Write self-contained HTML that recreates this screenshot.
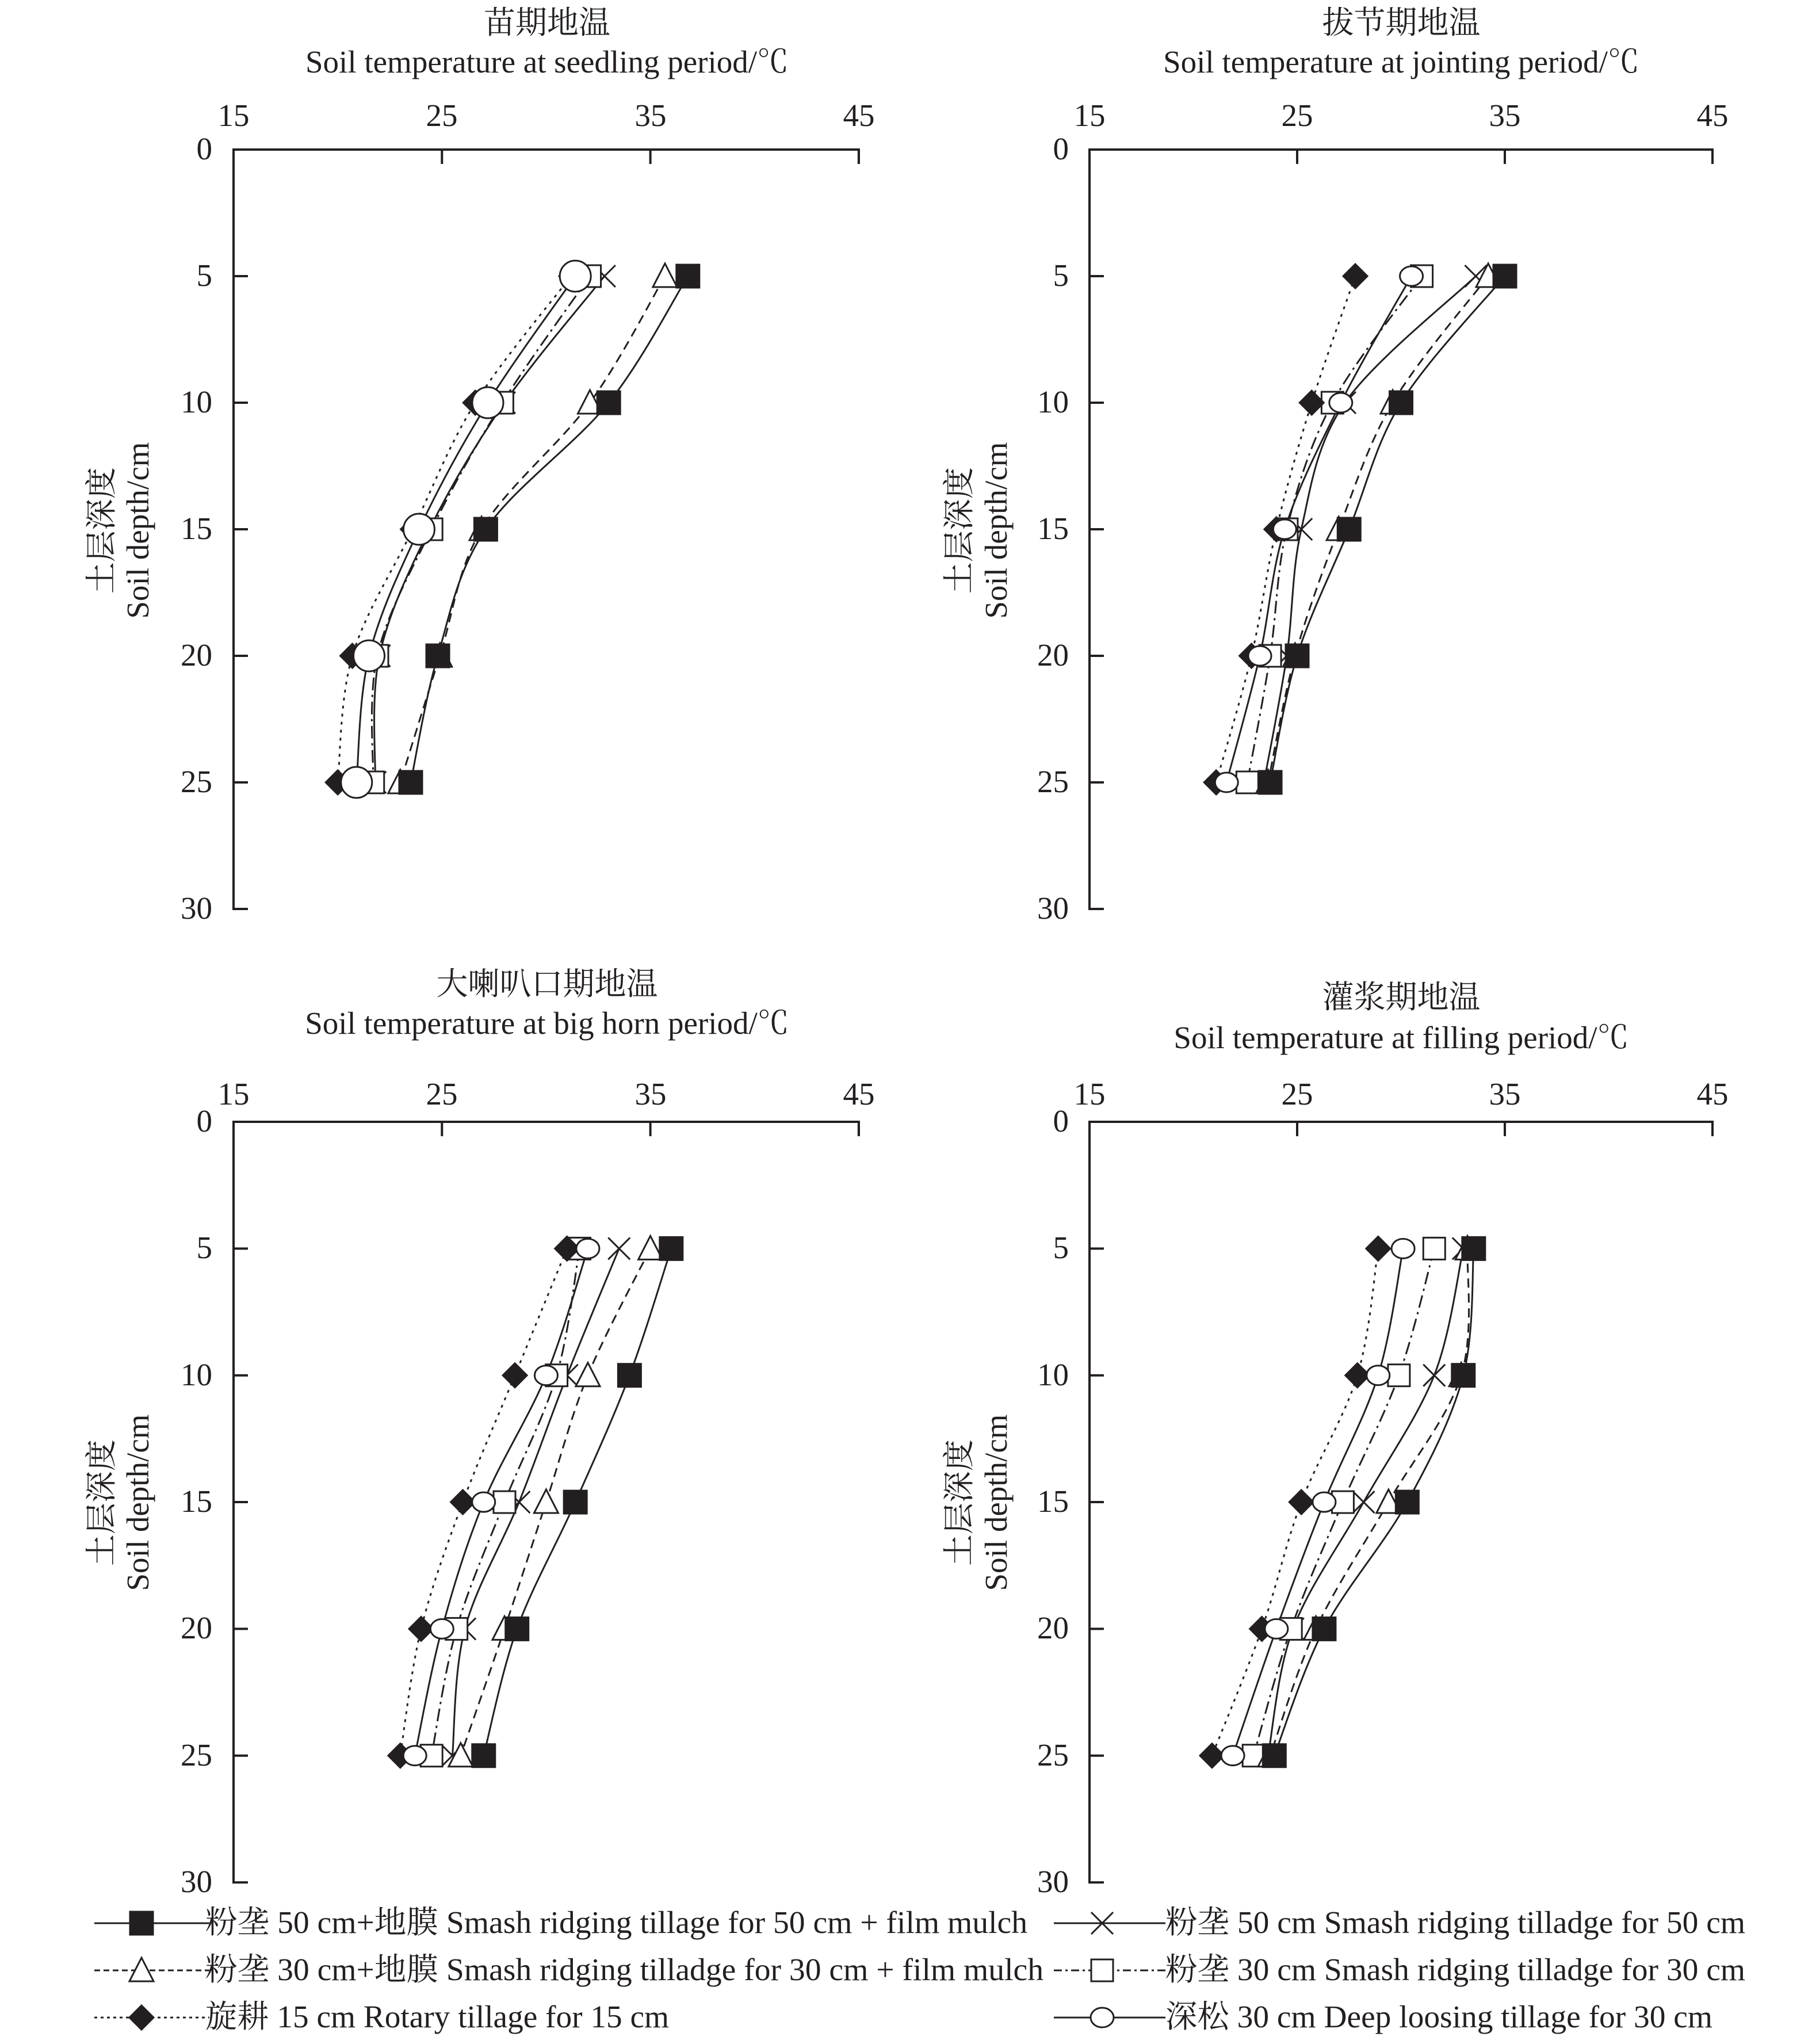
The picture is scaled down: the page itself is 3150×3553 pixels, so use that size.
<!DOCTYPE html>
<html><head><meta charset="utf-8">
<style>
html,body{margin:0;padding:0;background:#fff;}
svg{display:block;}
text{font-family:"Liberation Serif","Noto Serif CJK SC","Noto Sans CJK SC",serif;fill:#231f20;}
</style></head>
<body>
<svg id="s" width="3150" height="3553" viewBox="0 0 3150 3553" xmlns="http://www.w3.org/2000/svg">
<g font-size="55">
<!-- Titles -->
<text x="951" y="58" text-anchor="middle">苗期地温</text>
<text x="951" y="126" text-anchor="middle">Soil temperature at seedling period/℃</text>
<text x="2436" y="58" text-anchor="middle">拔节期地温</text>
<text x="2436" y="126" text-anchor="middle">Soil temperature at jointing period/℃</text>
<text x="951" y="1729" text-anchor="middle">大喇叭口期地温</text>
<text x="951" y="1797" text-anchor="middle">Soil temperature at big horn period/℃</text>
<text x="2436" y="1752" text-anchor="middle">灌浆期地温</text>
<text x="2436" y="1822" text-anchor="middle">Soil temperature at filling period/℃</text>
<!-- Y titles -->
<text transform="translate(195,922) rotate(-90)" text-anchor="middle">土层深度</text>
<text transform="translate(258,922) rotate(-90)" text-anchor="middle">Soil depth/cm</text>
<text transform="translate(1686,922) rotate(-90)" text-anchor="middle">土层深度</text>
<text transform="translate(1750,922) rotate(-90)" text-anchor="middle">Soil depth/cm</text>
<text transform="translate(195,2612) rotate(-90)" text-anchor="middle">土层深度</text>
<text transform="translate(258,2612) rotate(-90)" text-anchor="middle">Soil depth/cm</text>
<text transform="translate(1686,2612) rotate(-90)" text-anchor="middle">土层深度</text>
<text transform="translate(1750,2612) rotate(-90)" text-anchor="middle">Soil depth/cm</text>
<!-- X tick labels top -->
<text x="406" y="219" text-anchor="middle">15</text><text x="768" y="219" text-anchor="middle">25</text><text x="1131" y="219" text-anchor="middle">35</text><text x="1493" y="219" text-anchor="middle">45</text>
<text x="1894" y="219" text-anchor="middle">15</text><text x="2255" y="219" text-anchor="middle">25</text><text x="2616" y="219" text-anchor="middle">35</text><text x="2977" y="219" text-anchor="middle">45</text>
<text x="406" y="1920" text-anchor="middle">15</text><text x="768" y="1920" text-anchor="middle">25</text><text x="1131" y="1920" text-anchor="middle">35</text><text x="1493" y="1920" text-anchor="middle">45</text>
<text x="1894" y="1920" text-anchor="middle">15</text><text x="2255" y="1920" text-anchor="middle">25</text><text x="2616" y="1920" text-anchor="middle">35</text><text x="2977" y="1920" text-anchor="middle">45</text>
<!-- Y tick labels -->
<g text-anchor="end">
<text x="369" y="277">0</text><text x="369" y="497">5</text><text x="369" y="717">10</text><text x="369" y="937">15</text><text x="369" y="1157">20</text><text x="369" y="1377">25</text><text x="369" y="1597">30</text>
<text x="1858" y="277">0</text><text x="1858" y="497">5</text><text x="1858" y="717">10</text><text x="1858" y="937">15</text><text x="1858" y="1157">20</text><text x="1858" y="1377">25</text><text x="1858" y="1597">30</text>
<text x="369" y="1967">0</text><text x="369" y="2187">5</text><text x="369" y="2408">10</text><text x="369" y="2628">15</text><text x="369" y="2848">20</text><text x="369" y="3069">25</text><text x="369" y="3289">30</text>
<text x="1858" y="1967">0</text><text x="1858" y="2187">5</text><text x="1858" y="2408">10</text><text x="1858" y="2628">15</text><text x="1858" y="2848">20</text><text x="1858" y="3069">25</text><text x="1858" y="3289">30</text>
</g>
<!-- Legend text -->
<text x="357" y="3360" textLength="1429" lengthAdjust="spacingAndGlyphs">粉垄 50 cm+地膜 Smash ridging tillage for 50 cm + film mulch</text>
<text x="357" y="3442" textLength="1457" lengthAdjust="spacingAndGlyphs">粉垄 30 cm+地膜 Smash ridging tilladge for 30 cm + film mulch</text>
<text x="357" y="3524" textLength="806" lengthAdjust="spacingAndGlyphs">旋耕 15 cm Rotary tillage for 15 cm</text>
<text x="2026" y="3360" textLength="1008" lengthAdjust="spacingAndGlyphs">粉垄 50 cm Smash ridging tilladge for 50 cm</text>
<text x="2026" y="3442" textLength="1008" lengthAdjust="spacingAndGlyphs">粉垄 30 cm Smash ridging tilladge for 30 cm</text>
<text x="2026" y="3524" textLength="951" lengthAdjust="spacingAndGlyphs">深松 30 cm Deep loosing tillage for 30 cm</text>
</g>
<g id="g" stroke="#231f20" fill="none" stroke-width="3"></g>
</svg>
<script>
var NS="http://www.w3.org/2000/svg",G=document.getElementById("g");
function el(t,a){var e=document.createElementNS(NS,t);for(var k in a)e.setAttribute(k,a[k]);G.appendChild(e);return e;}
var plots=[
 {x0:406,y0:260,ys:44,xs:36.23},{x0:1894,y0:260,ys:44,xs:36.1},{x0:406,y0:1950,ys:44.07,xs:36.23},{x0:1894,y0:1950,ys:44.07,xs:36.1}];
plots.forEach(function(p){
 var x1=p.x0+30*p.xs,y30=p.y0+30*p.ys;
 el("path",{d:"M"+x1+" "+(p.y0+25)+"V"+p.y0+"H"+p.x0+"V"+y30+"H"+(p.x0+25),"stroke-width":"4"});
 for(var i=1;i<=3;i++){var x=p.x0+i*10*p.xs;el("line",{x1:x,y1:p.y0,x2:x,y2:p.y0+25,"stroke-width":"4"});}
 for(var d=5;d<30;d+=5){var y=p.y0+d*p.ys;el("line",{x1:p.x0,y1:y,x2:p.x0+25,y2:y,"stroke-width":"4"});}
});
var styles={sq:"",tri:"16 10",dia:"5 9",x:"",box:"22 8 4 8",ci:""};
var data=[
 {sq:[36.8,33.0,27.1,24.8,23.5],tri:[35.7,32.1,26.9,24.9,23.0],x:[32.8,28.0,24.4,22.0,21.8],box:[32.1,27.9,24.5,21.9,21.7],ci:[31.4,27.2,23.9,21.5,20.9],dia:[31.2,26.6,23.6,20.7,20.0]},
 {sq:[35.0,30.0,27.5,25.0,23.7],tri:[34.2,29.6,27.0,24.9,23.6],x:[33.6,27.3,25.2,24.5,23.4],box:[31.0,26.7,24.5,23.7,22.6],ci:[30.5,27.1,24.4,23.2,21.6],dia:[27.8,25.7,24.0,22.8,21.1]},
 {sq:[36.0,34.0,31.4,28.6,27.0],tri:[35.0,32.0,30.0,28.0,25.9],x:[33.5,31.0,28.7,26.1,25.5],box:[31.6,30.5,28.0,25.7,24.5],ci:[32.0,30.0,27.0,25.0,23.7],dia:[31.0,28.5,26.0,24.0,23.0]},
 {sq:[33.5,33.0,30.3,26.3,23.9],tri:[33.2,32.9,29.4,25.9,23.7],x:[33.0,31.6,28.2,24.8,23.6],box:[31.6,29.9,27.2,24.7,22.9],ci:[30.1,28.9,26.3,24.0,21.9],dia:[28.9,27.9,25.2,23.3,20.9]}];
function smooth(pts){var d="M"+pts[0][0]+" "+pts[0][1];for(var i=0;i<pts.length-1;i++){var p0=pts[i-1]||pts[i],p1=pts[i],p2=pts[i+1],p3=pts[i+2]||p2;
 var c1=[p1[0]+(p2[0]-p0[0])/6,p1[1]+(p2[1]-p0[1])/6],c2=[p2[0]-(p3[0]-p1[0])/6,p2[1]-(p3[1]-p1[1])/6];
 d+="C"+c1[0]+" "+c1[1]+" "+c2[0]+" "+c2[1]+" "+p2[0]+" "+p2[1];}return d;}
function marker(t,x,y,big){var r=big?27:20;
 if(t=="sq")el("rect",{x:x-20,y:y-20,width:40,height:40,fill:"#231f20"});
 if(t=="tri")el("path",{d:"M"+x+" "+(y-22)+"L"+(x+21)+" "+(y+19)+"L"+(x-21)+" "+(y+19)+"Z",fill:"#fff"});
 if(t=="box")el("rect",{x:x-19,y:y-19,width:38,height:38,fill:"#fff"});
 if(t=="x")el("path",{d:"M"+(x-19)+" "+(y-19)+"L"+(x+19)+" "+(y+19)+"M"+(x+19)+" "+(y-19)+"L"+(x-19)+" "+(y+19)});
 if(t=="ci")el("ellipse",{cx:x,cy:y,rx:r,ry:big?r:17,fill:"#fff"});
 if(t=="dia")el("path",{d:"M"+x+" "+(y-21)+"L"+(x+21)+" "+y+"L"+x+" "+(y+21)+"L"+(x-21)+" "+y+"Z",fill:"#231f20"});
}
var order=["sq","tri","x","box","dia","ci"];
data.forEach(function(D,pi){var p=plots[pi];var P={};
 order.forEach(function(k){P[k]=D[k].map(function(T,i){return [p.x0+(T-15)*p.xs,p.y0+(i+1)*5*p.ys];});
  var a={d:smooth(P[k])};if(styles[k])a["stroke-dasharray"]=styles[k];el("path",a);});
 ["x","box","tri","sq","dia","ci"].forEach(function(k){P[k].forEach(function(q){marker(k,q[0],q[1],pi==0);});});
});
var L=[["sq",164,364,246,3343,""],["tri",164,364,246,3425,"10 6"],["dia",164,364,246,3507,"5 6"],["x",1832,2026,1916,3343,""],["box",1832,2026,1916,3425,"14 6 4 6"],["ci",1832,2026,1916,3507,""]];
L.forEach(function(l){var a={x1:l[1],y1:l[4],x2:l[2],y2:l[4]};if(l[5])a["stroke-dasharray"]=l[5];el("line",a);marker(l[0],l[3],l[4],false);});
</script>
</body></html>
